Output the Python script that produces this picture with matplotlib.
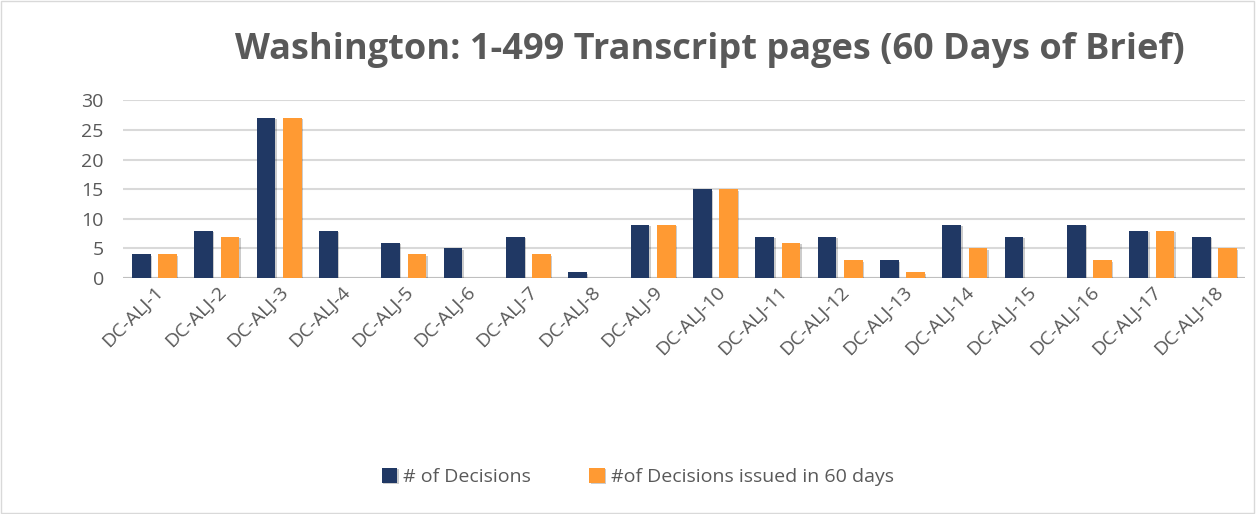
# -*- coding: utf-8 -*-
"""Washington 1-499 transcript pages: decisions vs decisions issued in 60 days"""

import matplotlib.pyplot as plt
import matplotlib.patheffects as pe
import numpy as np

# ── data ─────────────────────────────────────────────
judges = [f"DC-ALJ-{i}" for i in range(1, 19)]
decisions = [4, 8, 27, 8, 6, 5, 7, 1, 9, 15, 7, 7, 3, 9, 7, 9, 8, 7]
issued_60 = [4, 7, 27, 0, 4, 0, 4, 0, 9, 15, 6, 3, 1, 5, 0, 3, 8, 5]
y_ticks = [0, 5, 10, 15, 20, 25, 30]

TITLE = "Washington: 1-499 Transcript pages (60 Days of Brief)"
LABELS = ["# of Decisions", "#of Decisions issued in 60 days"]
NAVY, ORANGE = "#203864", "#FF9A33"
GREY_TXT = "#595959"

plt.rcParams["font.family"] = ["Open Sans", "DejaVu Sans"]

fig = plt.figure(figsize=(12.58, 5.14), dpi=100)
ax = fig.add_axes([0.098, 0.459, 0.892, 0.346])

x = np.arange(len(judges))
w, off = 0.30, 0.21
shadow = [pe.SimplePatchShadow(offset=(1, -1), shadow_rgbFace="#000000", alpha=0.2), pe.Normal()]
b1 = ax.bar(x - off, decisions, w, color=NAVY, zorder=3, label=LABELS[0])
b2 = ax.bar(x + off, issued_60, w, color=ORANGE, zorder=3, label=LABELS[1])
for b in list(b1) + list(b2):
    if b.get_height() > 0:
        b.set_path_effects(shadow)

ax.set_xlim(-0.5, len(judges) - 0.5)
ax.set_ylim(0, 30)
ax.set_yticks(y_ticks)
ax.yaxis.grid(True, color="#d9d9d9", linewidth=1.5, zorder=0)
ax.axhline(0, color="#bfbfbf", linewidth=1.5, zorder=2)
for s in ax.spines.values():
    s.set_visible(False)
ax.tick_params(length=0)
ax.tick_params(axis="y", labelsize=14, labelcolor=GREY_TXT, pad=14)
ax.set_xticks(x)
ax.set_xticklabels(judges, rotation=45, ha="right", va="top",
                   rotation_mode="anchor", fontsize=14, color=GREY_TXT)

fig.text(0.564, 0.903, TITLE, ha="center", va="center",
         fontsize=26, fontweight="bold", color=GREY_TXT)

fig.legend(handles=[b1, b2], labels=LABELS, loc="center", bbox_to_anchor=(0.507, 0.072),
           ncol=2, frameon=False, fontsize=14, labelcolor=GREY_TXT,
           handlelength=0.8, handleheight=0.8, handletextpad=0.3, columnspacing=3.0)

# thin chart border as in the original
fig.add_artist(plt.Rectangle((0.001, 0.002), 0.996, 0.996, transform=fig.transFigure,
                             fill=False, edgecolor="#d9d9d9", linewidth=1))

fig.savefig("out.png", dpi=100)
